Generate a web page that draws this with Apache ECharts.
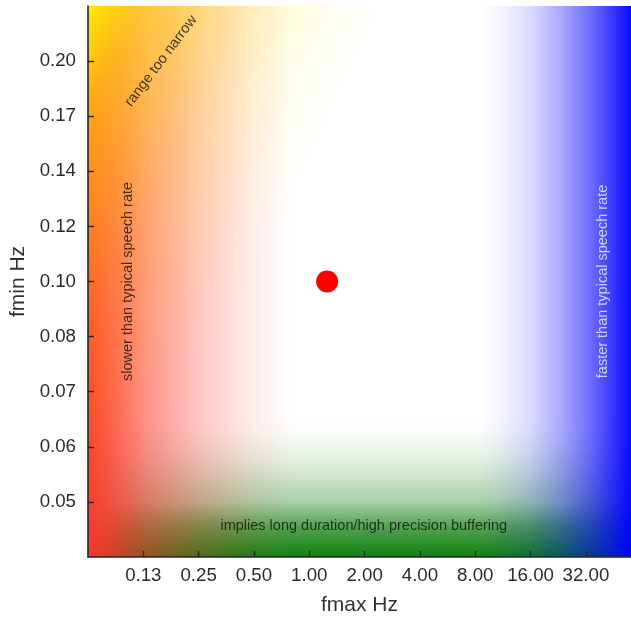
<!DOCTYPE html>
<html>
<head>
<meta charset="utf-8">
<script src="https://cdn.jsdelivr.net/npm/echarts@6/dist/echarts.min.js"></script>
<style>
  html, body { margin: 0; padding: 0; background: #fff; }
  #chart { width: 631px; height: 619px; }
</style>
</head>
<body>
<div id="chart"></div>
<script>
// Operating point (band limits in Hz)
const pointFmax = [1.25];
const pointFmin = [0.10];

// Axis ticks and their printed labels (log2 spacing)
const fmaxTicks = [0.125, 0.25, 0.5, 1, 2, 4, 8, 16, 32];
const fmaxTickLabels = ['0.13', '0.25', '0.50', '1.00', '2.00', '4.00', '8.00', '16.00', '32.00'];
const fminTicks = [0.05, 0.05946, 0.07071, 0.08409, 0.1, 0.11892, 0.14142, 0.16818, 0.2];
const fminTickLabels = ['0.05', '0.06', '0.07', '0.08', '0.10', '0.12', '0.14', '0.17', '0.20'];

// Axis extents (Hz)
const fmaxRange = [0.0625, 56.3];
const fminRange = [0.04204, 0.23784];

// Region limits (Hz)
const slowLimit = 0.8;      // fmax below: slower than speech
const fastLimit = 8.5;      // fmax above: faster than speech
const bufferLimit = 0.065;  // fmin below: long buffering

// Region notes and where they are anchored (Hz)
const noteTexts = [
  'range too narrow',
  'slower than typical speech rate',
  'faster than typical speech rate',
  'implies long duration/high precision buffering'
];
const noteFmax = [0.156, 0.103, 39.7, 1.98];
const noteFmin = [0.2, 0.1, 0.1, 0.0464];

const FONT = 'Liberation Sans, Arial, Helvetica, sans-serif';

function tickLabel(ticks, labels) {
  return function (v) {
    const i = ticks.findIndex(t => Math.abs(t - v) / t < 1e-3);
    return i < 0 ? '' : labels[i];
  };
}

function rgba(c, a) { return 'rgba(' + c[0] + ',' + c[1] + ',' + c[2] + ',' + a + ')'; }
function fade(c, dir, stops) {
  return {
    type: 'linear', x: dir[0], y: dir[1], x2: dir[2], y2: dir[3],
    colorStops: stops.map(s => ({ offset: s[0], color: rgba(c, s[1]) }))
  };
}

const green = [16, 128, 16];
const red = [252, 50, 45];
const yellow = [255, 238, 0];
const blue = [0, 0, 255];

const regions = [
  // long buffering: green rising from the bottom
  [{ yAxis: fminRange[0], itemStyle: { color: fade(green, [0, 1, 0, 0],
      [[0, 1], [0.12, 0.85], [0.23, 0.7], [0.4, 0.36], [0.63, 0.17], [0.77, 0.08], [0.91, 0.02], [1, 0]]) } },
   { yAxis: bufferLimit }],
  // slow: red from the left
  [{ xAxis: fmaxRange[0], itemStyle: { color: fade(red, [0, 0, 1, 0],
      [[0, 1], [0.1, 0.85], [0.3, 0.53], [0.55, 0.27], [0.8, 0.09], [1, 0]]) } },
   { xAxis: slowLimit }],
  // narrow range: yellow from the top-left corner
  [{ xAxis: fmaxRange[0], yAxis: fminRange[1], itemStyle: { color: fade(yellow, [0, 0, 0.442, 0.217],
      [[0, 1], [0.18, 0.6], [0.37, 0.4], [0.54, 0.22], [0.7, 0.13], [0.84, 0.05], [1, 0]]) } },
   { xAxis: fmaxRange[1], yAxis: fminRange[0] }],
  // fast: blue from the right
  [{ xAxis: fastLimit, itemStyle: { color: fade(blue, [0, 0, 1, 0],
      [[0, 0], [0.13, 0.04], [0.33, 0.14], [0.53, 0.33], [0.73, 0.57], [0.89, 0.8], [1, 0.96]]) } },
   { xAxis: fmaxRange[1] }]
];

const noteStyles = [
  { rotate: 53, color: '#111' },
  { rotate: 90, color: '#111' },
  { rotate: 90, color: 'rgba(255,255,255,0.92)' },
  { rotate: 0, color: '#111' }
];

const axisLine = { show: true, lineStyle: { color: '#262626', width: 1.6 } };
const axisTick = { show: true, inside: true, length: 6, lineStyle: { color: '#262626', width: 1.4 } };

const chart = echarts.init(document.getElementById('chart'), null, { renderer: 'canvas' });
chart.setOption({
  animation: false,
  textStyle: { fontFamily: FONT },
  grid: { left: 88, right: 0, top: 6, bottom: 62, containLabel: false, outerBoundsMode: 'none' },
  xAxis: {
    type: 'log', logBase: 2, min: fmaxRange[0], max: fmaxRange[1],
    name: 'fmax Hz', nameLocation: 'middle', nameGap: 38,
    nameTextStyle: { fontSize: 21, color: '#333', fontFamily: FONT },
    axisLine, axisTick: Object.assign({ customValues: fmaxTicks }, axisTick),
    axisLabel: { customValues: fmaxTicks, formatter: tickLabel(fmaxTicks, fmaxTickLabels),
      fontSize: 18.7, color: '#2b2b2b', margin: 9, fontFamily: FONT },
    splitLine: { show: false }, z: 10
  },
  yAxis: {
    type: 'log', logBase: 2, min: fminRange[0], max: fminRange[1],
    name: 'fmin Hz', nameLocation: 'middle', nameGap: 58, nameRotate: 90,
    nameTextStyle: { fontSize: 21, color: '#333', fontFamily: FONT },
    axisLine, axisTick: Object.assign({ customValues: fminTicks }, axisTick),
    axisLabel: { customValues: fminTicks, formatter: tickLabel(fminTicks, fminTickLabels),
      fontSize: 18.7, color: '#2b2b2b', margin: 12, fontFamily: FONT },
    splitLine: { show: false }, z: 10
  },
  series: [
    {
      name: 'regions', type: 'scatter', data: [], silent: true, z: 1,
      markArea: { silent: true, z: 1, label: { show: false }, data: regions }
    },
    {
      name: 'notes', type: 'scatter', silent: true, z: 5,
      symbolSize: 1, itemStyle: { color: 'rgba(0,0,0,0)' },
      label: { show: true, position: 'inside', formatter: '{b}', fontSize: 14.5, fontFamily: FONT },
      data: noteTexts.map((t, i) => ({
        name: t, value: [noteFmax[i], noteFmin[i]],
        label: noteStyles[i]
      }))
    },
    {
      name: 'operating point', type: 'scatter', z: 8, symbolSize: 22,
      itemStyle: { color: '#ff0000', opacity: 1 },
      data: pointFmax.map((f, i) => [f, pointFmin[i]])
    }
  ]
});
</script>
</body>
</html>
